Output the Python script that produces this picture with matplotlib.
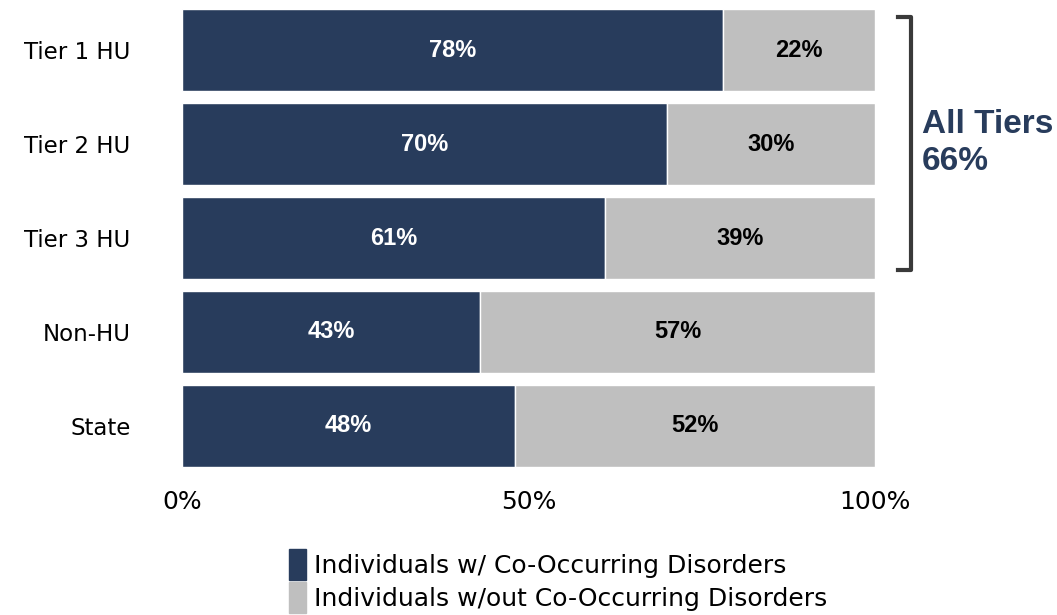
import numpy as np
from matplotlib import pyplot as plt
from matplotlib.patches import Patch

# data
groups = ["Tier 1 HU", "Tier 2 HU", "Tier 3 HU", "Non-HU", "State"]
with_cod = [78, 70, 61, 43, 48]
without_cod = [22, 30, 39, 57, 52]
tick_vals = [0, 50, 100]
tick_labels = ["0%", "50%", "100%"]
bracket_text = "All Tiers\n66%"

dark = "#283c5c"
grey = "#bfbfbf"

fig = plt.figure(figsize=(10.57, 6.15), dpi=100)
ax = fig.add_axes([0.1722, 0.231, 0.6556, 0.764])

y = np.arange(len(groups))
ax.barh(y, with_cod, height=0.87, color=dark, edgecolor="white", linewidth=1)
ax.barh(y, without_cod, left=with_cod, height=0.87, color=grey, edgecolor="white", linewidth=1)

for i in range(len(groups)):
    ax.text(with_cod[i] / 2, y[i], str(with_cod[i]) + "%", ha="center", va="center",
            color="white", fontsize=17, fontweight="bold", family="Liberation Sans")
    ax.text(with_cod[i] + without_cod[i] / 2, y[i], str(without_cod[i]) + "%", ha="center",
            va="center", color="black", fontsize=17, fontweight="bold", family="Liberation Sans")

ax.set_xlim(0, 100)
ax.set_ylim(len(groups) - 0.5, -0.5)
ax.set_yticks(y)
ax.set_yticklabels(groups, fontsize=16.5)
ax.set_xticks(tick_vals)
ax.set_xticklabels(tick_labels, fontsize=18)
ax.tick_params(length=0)
ax.tick_params(axis="y", pad=37)
ax.tick_params(axis="x", pad=12)
for s in ax.spines.values():
    s.set_visible(False)

# bracket for the three tiers
bx0, bx1 = 0.850, 0.862
bt, bb = 1 - 17 / 615, 1 - 270 / 615
fig.lines.append(plt.Line2D([bx0, bx1, bx1, bx0], [bt, bt, bb, bb], transform=fig.transFigure,
                            color="#3a3a3a", linewidth=3))
fig.text(0.872, 1 - 143 / 615, bracket_text, ha="left", va="center", color=dark,
         fontsize=24, fontweight="bold", family="Liberation Sans", linespacing=1.25)

handles = [Patch(color=dark), Patch(color=grey)]
fig.legend(handles, ["Individuals w/ Co-Occurring Disorders", "Individuals w/out Co-Occurring Disorders"],
           loc="upper left", bbox_to_anchor=(0.2615, 0.127), frameon=False, handlelength=0.7,
           handleheight=1.5, labelspacing=0.1, handletextpad=0.3, borderpad=0,
           prop={"size": 18})

plt.savefig("out.png", dpi=100)
